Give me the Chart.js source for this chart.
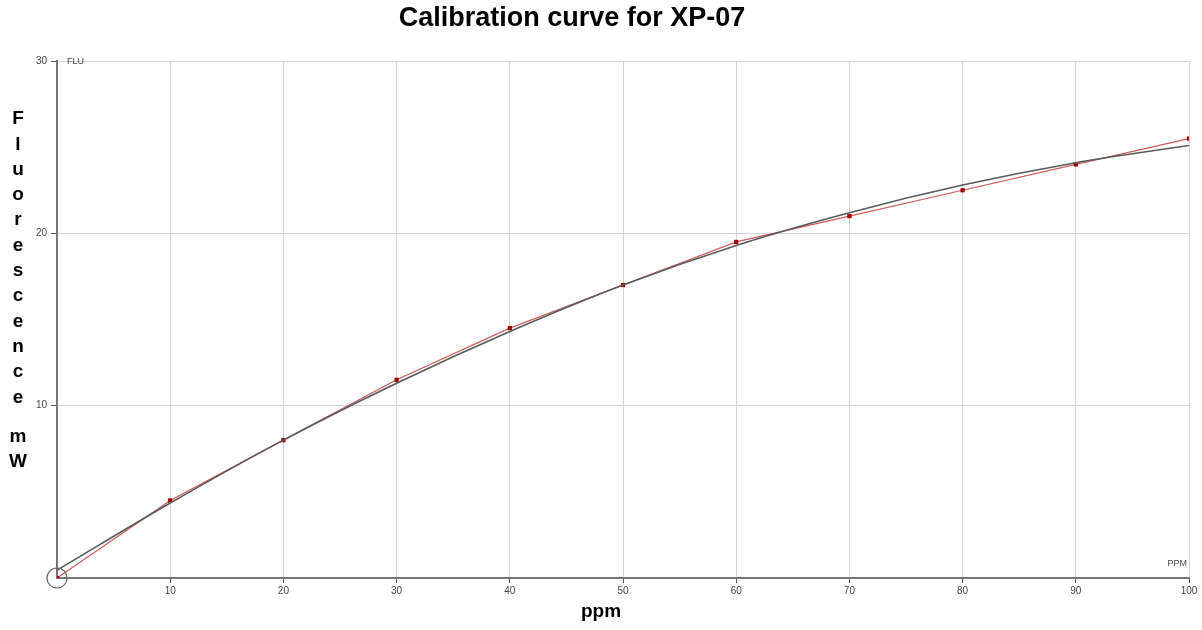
<!DOCTYPE html>
<html>
<head>
<meta charset="utf-8">
<script src="https://cdn.jsdelivr.net/npm/chart.js@4"></script>
<style>
  html, body { margin: 0; padding: 0; background: #fff; }
  #wrap { width: 1202px; height: 630px; }
</style>
</head>
<body>
<div id="wrap"><canvas id="calib"></canvas></div>
<script>
  // measured points (red) and fitted curve (dark grey)
  const ppm = [0, 10, 20, 30, 40, 50, 60, 70, 80, 90, 100];
  const measured = [0, 4.5, 8, 11.5, 14.5, 17, 19.5, 21, 22.5, 24, 25.5];
  const fitted = [0.45, 4.35, 8.0, 11.3, 14.3, 17.0, 19.3, 21.2, 22.8, 24.1, 25.1];
  const xTicks = [10, 20, 30, 40, 50, 60, 70, 80, 90, 100];
  const yTicks = [10, 20, 30];
  const yTitle = ['F', 'l', 'u', 'o', 'r', 'e', 's', 'c', 'e', 'n', 'c', 'e'];
  const yUnit = ['m', 'W'];

  const FONT = '"Liberation Sans", Arial, sans-serif';

  // extra text: title, stacked y label, ppm label, FLU/PPM, origin circle
  const decor = {
    id: 'decor',
    afterDraw(chart) {
      const ctx = chart.ctx;
      const xs = chart.scales.x, ys = chart.scales.y;
      ctx.save();
      ctx.fillStyle = '#000';
      ctx.textAlign = 'center';
      ctx.textBaseline = 'middle';
      ctx.font = 'bold 27px ' + FONT;
      ctx.fillText('Calibration curve for XP-07', 572, 19);

      ctx.font = 'bold 19px ' + FONT;
      yTitle.forEach((ch, i) => ctx.fillText(ch, 18, 119 + i * 25.3));
      yUnit.forEach((ch, i) => ctx.fillText(ch, 18, 437 + i * 25));

      ctx.font = 'bold 19px ' + FONT;
      ctx.fillText('ppm', 601, 612);

      ctx.fillStyle = '#444';
      ctx.font = '9px ' + FONT;
      ctx.textAlign = 'left';
      ctx.fillText('FLU', xs.getPixelForValue(0) + 10, ys.getPixelForValue(30) + 1);
      ctx.textAlign = 'right';
      ctx.fillText('PPM', xs.getPixelForValue(100) - 2, ys.getPixelForValue(0) - 14);

      ctx.strokeStyle = '#666';
      ctx.lineWidth = 1.2;
      ctx.beginPath();
      ctx.arc(xs.getPixelForValue(0), ys.getPixelForValue(0), 10, 0, Math.PI * 2);
      ctx.stroke();
      ctx.restore();
    }
  };

  const tickCol = (c) => (c.tick && c.tick.value === 0 ? 'rgba(0,0,0,0)' : '#555');

  const calib = document.getElementById('calib').getContext('2d');

  new Chart(calib, {
    type: 'line',
    data: {
      labels: ppm,
      datasets: [
        {
          label: 'Fit',
          data: ppm.map((x, i) => ({ x: x, y: fitted[i] })),
          borderColor: '#5a5a5a',
          borderWidth: 1.6,
          pointRadius: 0,
          cubicInterpolationMode: 'monotone',
          fill: false
        },
        {
          label: 'Measured',
          data: ppm.map((x, i) => ({ x: x, y: measured[i] })),
          borderColor: '#d05a5a',
          borderWidth: 1.2,
          pointStyle: 'rect',
          pointRadius: 3,
          pointBackgroundColor: '#a00000',
          pointBorderColor: '#a00000',
          pointBorderWidth: 0,
          tension: 0,
          fill: false
        }
      ]
    },
    options: {
      responsive: true,
      maintainAspectRatio: false,
      animation: false,
      layout: { padding: { top: 61, right: 13, left: 0, bottom: 0 } },
      plugins: {
        legend: { display: false },
        tooltip: { enabled: false }
      },
      scales: {
        x: {
          type: 'linear',
          min: 0,
          max: 100,
          afterFit: (s) => { s.height = 52; },
          afterBuildTicks: (s) => { s.ticks = [0].concat(xTicks).map(v => ({ value: v })); },
          ticks: {
            callback: (v) => (v === 0 ? '' : v),
            color: '#444',
            font: { family: FONT, size: 10 },
            padding: 2,
            maxRotation: 0
          },
          grid: { color: '#d4d4d4', lineWidth: 1, tickColor: tickCol, tickLength: 5 },
          border: { color: '#777', width: 2 }
        },
        y: {
          min: 0,
          max: 30,
          afterFit: (s) => { s.width = 57; },
          afterBuildTicks: (s) => { s.ticks = [0].concat(yTicks).map(v => ({ value: v })); },
          ticks: {
            callback: (v) => (v === 0 ? '' : v),
            color: '#444',
            font: { family: FONT, size: 10 },
            padding: 4
          },
          grid: { color: '#d4d4d4', lineWidth: 1, tickColor: tickCol, tickLength: 6 },
          border: { color: '#777', width: 2 }
        }
      }
    },
    plugins: [decor]
  });
</script>
</body>
</html>
